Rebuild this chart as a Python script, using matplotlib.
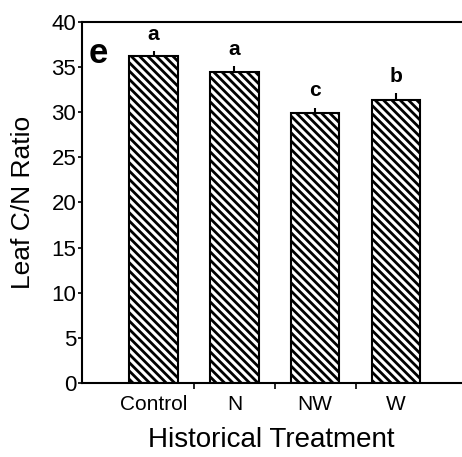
import numpy as np
import matplotlib
matplotlib.use("Agg")
from matplotlib import pyplot as plt

# data
treatments = ["Control", "N", "NW", "W"]
cn_ratio   = [36.2, 34.5, 29.9, 31.4]
cn_err     = [0.6, 0.6, 0.6, 0.7]
letters    = ["a", "a", "c", "b"]

plt.rcParams["font.family"] = ["Liberation Sans", "DejaVu Sans"]
plt.rcParams["hatch.linewidth"] = 2.0

fig = plt.figure(figsize=(4.62, 4.57), dpi=100)
ax = fig.add_axes([0.177, 0.162, 0.82, 0.79])

x = np.arange(len(treatments))
ax.bar(x, cn_ratio, width=0.6, color="white", edgecolor="black",
       hatch="\\\\\\\\", linewidth=1.5, zorder=2)
ax.errorbar(x, cn_ratio, yerr=[np.zeros(len(x)), cn_err], fmt="none",
            ecolor="black", elinewidth=1.5, capsize=0, zorder=3)

# significance letters
for xi, v, e, lab in zip(x, cn_ratio, cn_err, letters):
    ax.text(xi, v + e + 0.8, lab, ha="center", va="bottom",
            fontsize=15, fontweight="bold")

ax.text(-0.68, 36.5, "e", fontsize=25, fontweight="bold", ha="center", va="center")

ax.set_xlim(-0.89, 3.8)
ax.set_ylim(0, 40)
ax.set_yticks(np.arange(0, 41, 5))
ax.set_xticks(x)
ax.set_xticklabels(treatments)
ax.set_xticks([0.5, 1.5, 2.5], minor=True)
ax.tick_params(axis="x", which="major", length=0, labelsize=15, pad=9)
ax.tick_params(axis="x", which="minor", length=4, width=1.2)
ax.tick_params(axis="y", length=3, width=1.2, labelsize=16, pad=1)

ax.spines["right"].set_visible(False)
for s in ["left", "top", "bottom"]:
    ax.spines[s].set_linewidth(1.5)

ax.set_ylabel("Leaf C/N Ratio", fontsize=19, labelpad=12)
ax.set_xlabel("Historical Treatment", fontsize=20, labelpad=9)

fig.savefig("out.png", dpi=100)
